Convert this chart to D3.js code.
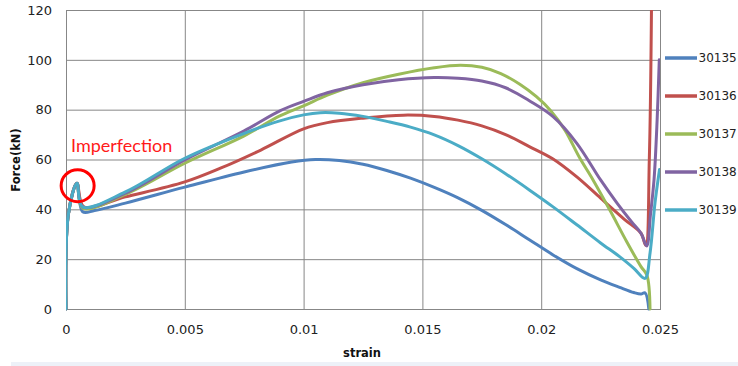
<!DOCTYPE html>
<html>
<head>
<meta charset="utf-8">
<script src="https://cdn.jsdelivr.net/npm/d3@7"></script>
<style>
  html, body { margin: 0; padding: 0; background: #ffffff; }
  svg { display: block; }
</style>
</head>
<body>
<svg id="chart" width="738" height="366"></svg>
<script>
// Force versus strain for five specimens
const seriesNames = ["30135", "30136", "30137", "30138", "30139"];
const seriesColors = ["#4F81BD", "#C0504D", "#9BBB59", "#8064A2", "#4BACC6"];

const xTickValues = [0, 0.005, 0.01, 0.015, 0.02, 0.025];
const xTickLabels = ["0", "0.005", "0.01", "0.015", "0.02", "0.025"];
const yTickValues = [0, 20, 40, 60, 80, 100, 120];
const yTickLabels = ["0", "20", "40", "60", "80", "100", "120"];

// [strain, force kN]
const s30135 = [[0,0],[0.0001,38],[0.00046,50.5],[0.0007,39],[0.0012,39.5],[0.0025,42.5],[0.005,48.9],
  [0.0075,55],[0.0095,59],[0.0105,60],[0.0115,59.6],[0.0125,58.1],[0.0135,55.6],[0.0145,52.5],
  [0.0155,48.8],[0.0165,44.6],[0.0175,39.6],[0.0185,33.9],[0.0195,27.8],[0.0205,21.7],[0.0215,16.2],
  [0.0225,11.7],[0.0233,8.7],[0.0239,6.6],[0.0242,6],[0.02437,6.5],[0.02453,0]];
const s30136 = [[0,0],[0.0001,38],[0.00046,50.5],[0.00075,41],[0.0025,45],[0.005,51],[0.0065,56.5],
  [0.0082,63.8],[0.0100,72.3],[0.011,74.8],[0.0125,76.6],[0.0142,77.8],[0.0155,77.3],[0.0165,75.8],
  [0.0175,73.5],[0.0185,70],[0.0195,65.2],[0.0205,60.2],[0.0215,53],[0.0225,44.5],[0.0235,36],
  [0.0242,30.4],[0.0244,25.6],[0.02455,60],[0.02465,130]];
const s30137 = [[0,0],[0.0001,38],[0.00046,50.5],[0.0007,40.5],[0.0025,46],[0.005,58.5],[0.0075,69.5],
  [0.0090,77.5],[0.0100,81.5],[0.0110,85.8],[0.0125,90.8],[0.0140,94.2],[0.0155,96.8],[0.0166,97.8],
  [0.0175,97],[0.0183,94.5],[0.0191,90.2],[0.0198,85.2],[0.0204,79.6],[0.0210,71.8],[0.0216,61],
  [0.0222,51.5],[0.0229,39.5],[0.0236,27],[0.0242,17],[0.02445,13.5],[0.02458,0]];
const s30138 = [[0,0],[0.0001,38],[0.00046,50.5],[0.0007,41],[0.0025,46.5],[0.005,59.8],[0.0075,71.5],
  [0.0090,79.5],[0.0100,83.3],[0.0110,86.8],[0.0125,90],[0.0140,92],[0.0155,92.9],[0.0165,92.6],
  [0.0175,91.5],[0.0185,88.8],[0.0195,83.6],[0.0205,77.2],[0.0215,66.5],[0.0225,51.8],[0.0232,42.4],
  [0.0238,35],[0.0242,30.4],[0.02444,25.3],[0.0246,38],[0.02475,52],[0.02488,76],[0.02497,100]];
const s30139 = [[0,0],[0.0001,38],[0.00046,50.5],[0.0007,41],[0.0025,47],[0.005,60.5],[0.0075,70.5],
  [0.0090,75.5],[0.0100,77.9],[0.0107,78.8],[0.0115,78.6],[0.0125,77.3],[0.0135,75.3],[0.0145,73],
  [0.0155,69.9],[0.0165,65.6],[0.0175,60.3],[0.0185,54.3],[0.0195,47.8],[0.0205,41],[0.0215,33.8],
  [0.0225,26.5],[0.0233,21],[0.0239,16.3],[0.02437,12.3],[0.02458,22.4],[0.02479,42.6],[0.02498,56]];

const seriesData = [s30135, s30136, s30137, s30138, s30139];

const svg = d3.select("#chart");
const plot = { left: 66, top: 10, right: 660, bottom: 309 };
const gridColor = "#878787";
const fontFamily = "'DejaVu Sans', Verdana, sans-serif";

const x = d3.scaleLinear().domain([0, 0.025]).range([plot.left, plot.right]);
const y = d3.scaleLinear().domain([0, 120]).range([plot.bottom, plot.top]);

// faint strip along the bottom edge
svg.append("rect").attr("x", 11).attr("y", 362).attr("width", 727).attr("height", 4)
  .attr("fill", "#edf1f8");

// vertical gridlines with strain labels
const xAxis = d3.axisBottom(x)
  .tickValues(xTickValues)
  .tickFormat((d, i) => xTickLabels[i])
  .tickSize(-(plot.bottom - plot.top))
  .tickPadding(16);
const gx = svg.append("g").attr("transform", `translate(0,${plot.bottom})`).call(xAxis);
gx.select(".domain").remove();
gx.selectAll(".tick line").attr("stroke", gridColor).attr("stroke-width", 1);
gx.selectAll(".tick text").attr("fill", "#222").style("font-family", fontFamily).style("font-size", "13px");

// horizontal gridlines with force labels
const yAxis = d3.axisLeft(y)
  .tickValues(yTickValues)
  .tickFormat((d, i) => yTickLabels[i])
  .tickSize(-(plot.right - plot.left))
  .tickPadding(14);
const gy = svg.append("g").attr("transform", `translate(${plot.left},0)`).call(yAxis);
gy.select(".domain").remove();
gy.selectAll(".tick line").attr("stroke", gridColor).attr("stroke-width", 1);
gy.selectAll(".tick text").attr("fill", "#222").style("font-family", fontFamily).style("font-size", "13px");

// plot frame
svg.append("rect")
  .attr("x", plot.left + 0.5).attr("y", plot.top + 0.5)
  .attr("width", plot.right - plot.left).attr("height", plot.bottom - plot.top)
  .attr("fill", "none").attr("stroke", gridColor).attr("stroke-width", 1);

// axis titles
svg.append("text")
  .attr("x", 362).attr("y", 357)
  .attr("text-anchor", "middle")
  .style("font-family", fontFamily).style("font-size", "11.5px").style("font-weight", "bold")
  .attr("fill", "#111")
  .text("strain");
svg.append("text")
  .attr("transform", "translate(20,160) rotate(-90)")
  .attr("text-anchor", "middle")
  .style("font-family", fontFamily).style("font-size", "11.5px").style("font-weight", "bold")
  .attr("fill", "#111")
  .text("Force(kN)");

// series lines, clipped to the plot area
svg.append("clipPath").attr("id", "plot-clip")
  .append("rect")
  .attr("x", plot.left).attr("y", plot.top)
  .attr("width", plot.right - plot.left).attr("height", plot.bottom - plot.top + 2);

const line = d3.line()
  .x(d => x(d[0]))
  .y(d => y(d[1]))
  .curve(d3.curveCatmullRom.alpha(0.5));

svg.append("g").attr("clip-path", "url(#plot-clip)")
  .selectAll("path")
  .data(seriesData)
  .join("path")
  .attr("d", line)
  .attr("fill", "none")
  .attr("stroke", (d, i) => seriesColors[i])
  .attr("stroke-width", 3)
  .attr("stroke-linejoin", "round")
  .attr("stroke-linecap", "round");

// legend
const legend = svg.append("g");
seriesNames.forEach((name, i) => {
  const ly = 58 + i * 38;
  legend.append("line")
    .attr("x1", 665).attr("x2", 697).attr("y1", ly).attr("y2", ly)
    .attr("stroke", seriesColors[i]).attr("stroke-width", 3.5);
  legend.append("text")
    .attr("x", 698.5).attr("y", ly).attr("dy", "0.35em")
    .style("font-family", fontFamily).style("font-size", "12px")
    .attr("fill", "#222")
    .text(name);
});

// imperfection callout around the early load peak
svg.append("ellipse")
  .attr("cx", x(0.00049)).attr("cy", y(49.5))
  .attr("rx", 16.5).attr("ry", 16)
  .attr("fill", "none").attr("stroke", "#ff0000").attr("stroke-width", 3);
svg.append("text")
  .attr("x", 71).attr("y", 152)
  .style("font-family", "Lato, 'Open Sans', sans-serif").style("font-size", "18px")
  .attr("fill", "#ff1a1a")
  .text("Imperfection");
</script>
</body>
</html>
